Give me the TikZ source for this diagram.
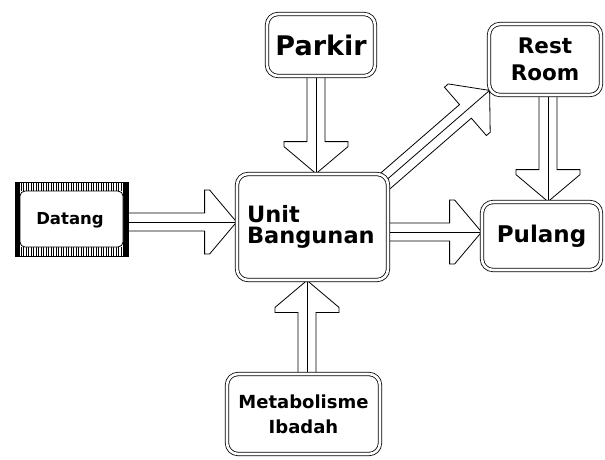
\documentclass[tikz,border=0pt]{standalone}
\usepackage{fontspec}
\setmainfont{DejaVu Sans}
\usetikzlibrary{calc,backgrounds}

\tikzset{
  box/.style={draw=black, line width=0.8pt, double=white, double distance=2.6pt,
    rounded corners=11pt, fill=white, inner sep=0pt},
  arrowbody/.style={draw=black, line width=0.8pt, fill=white, line join=miter},
  midline/.style={draw=black, line width=0.8pt},
  hatch/.style={draw=black, line width=0.6pt},
}

% hollow block arrow from #1 to #2 with a line along its axis
\newcommand\blockarrow[2]{%
  \path[arrowbody]
    ($(#1)!9pt!90:(#2)$)
    -- ($(#2)!32pt!(#1)!9pt!-90:(#1)$)
    -- ($(#2)!32pt!(#1)!32pt!-90:(#1)$)
    -- ($(#2)!27pt!(#1)!32pt!-90:(#1)$)
    -- (#2)
    -- ($(#2)!27pt!(#1)!32pt!90:(#1)$)
    -- ($(#2)!32pt!(#1)!32pt!90:(#1)$)
    -- ($(#2)!32pt!(#1)!9pt!90:(#1)$)
    -- ($(#1)!9pt!-90:(#2)$);
  \draw[midline] (#1) -- (#2);
}

\begin{document}
\begin{tikzpicture}[x=1pt,y=-1pt]
\useasboundingbox (0,0) rectangle (605,459);

% striped frame of the start box
\draw[line width=0.8pt] (15,182) rectangle (128,256);
\fill[black] (15,182) rectangle (20,256);
\fill[black] (123,182) rectangle (128,256);
\foreach \x in {21,23.5,...,122}{
  \draw[hatch] (\x,182) -- (\x,191);
  \draw[hatch] (\x,247) -- (\x,256);
}
\draw[line width=0.8pt, fill=white, rounded corners=5pt] (20,191) rectangle (123,247);
\node[inner sep=0pt, minimum width=113pt, minimum height=74pt,
  font=\bfseries\fontsize{16.5}{16.5}\selectfont] (datang) at (70,220) {Datang};

% rounded double-line boxes
\node[box, minimum width=108pt, minimum height=62pt,
  font=\bfseries\fontsize{27}{27}\selectfont] (parkir) at (321,45) {Parkir};
\node[box, minimum width=112pt, minimum height=71pt, align=center,
  font=\bfseries\fontsize{21.5}{27}\selectfont] (rest) at (545,59.5) {Rest\\Room};
\node[box, minimum width=151pt, minimum height=106pt, text width=131pt, align=left,
  font=\bfseries\fontsize{22.5}{21}\selectfont] (unit) at (312.5,227) {Unit\\Bangunan};
\node[box, minimum width=119pt, minimum height=68pt,
  font=\bfseries\fontsize{23}{23}\selectfont] (pulang) at (541.5,236) {Pulang};
\node[box, minimum width=153pt, minimum height=80pt, align=center,
  font=\bfseries\fontsize{18}{25}\selectfont] (meta) at (303.5,414) {Metabolisme\\Ibadah};

% arrow end points
\coordinate (a1) at ([xshift=-5pt]parkir.south);
\coordinate (b1) at (a1 |- unit.north);
\coordinate (a2) at ([yshift=-2pt]datang.east);
\coordinate (b2) at (a2 -| unit.west);
\coordinate (a3) at ([yshift=-5pt]unit.east);
\coordinate (b3) at (a3 -| pulang.west);
\coordinate (a4) at ([xshift=3pt]rest.south);
\coordinate (b4) at (a4 |- pulang.north);
\coordinate (a5) at ([xshift=3.5pt]meta.north);
\coordinate (b5) at (a5 |- unit.south);
\coordinate (a6) at ([xshift=-5pt,yshift=-9pt]unit.north east);
\coordinate (b6) at ([xshift=1pt,yshift=5pt]rest.south west);

\begin{pgfonlayer}{background}
  \blockarrow{a1}{b1}
  \blockarrow{a2}{b2}
  \blockarrow{a3}{b3}
  \blockarrow{a4}{b4}
  \blockarrow{a5}{b5}
  \blockarrow{a6}{b6}
\end{pgfonlayer}
\end{tikzpicture}
\end{document}
